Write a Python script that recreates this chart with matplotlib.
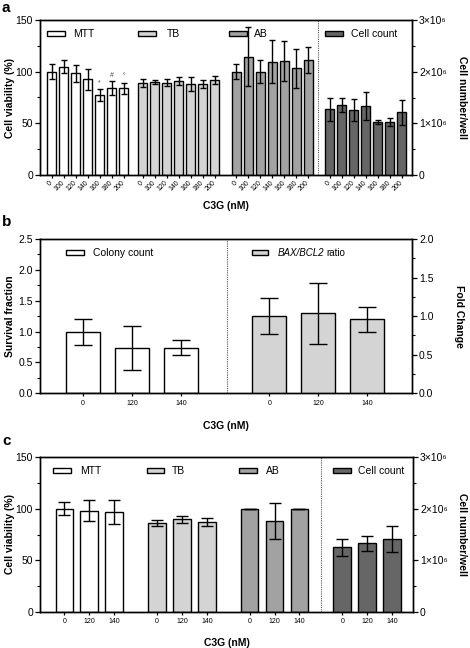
import matplotlib
matplotlib.use("Agg")
import matplotlib.pyplot as plt
import matplotlib.transforms as mtransforms
from matplotlib.patches import Rectangle
from matplotlib.ticker import MultipleLocator, FormatStrFormatter
import numpy as np

plt.rcParams['font.family'] = ['Liberation Sans', 'DejaVu Sans']

# ---------------- data ----------------
conc_a = ['0', '100', '120', '140', '160', '180', '200']
mtt_a = [100, 104.8, 98.4, 92.6, 77.4, 84, 84]
mtt_a_err = [7, 6.5, 8, 10, 6, 7, 5.5]
tb_a = [89.3, 89.6, 89.5, 91, 88, 88, 92]
tb_a_err = [4, 2, 3, 3.5, 6.5, 4, 4]
ab_a = [100, 114.5, 100, 109.7, 110.3, 103.2, 111.3]
ab_a_err = [7.5, 28.5, 11, 21, 19, 19, 13]
cell_a = [1.27e6, 1.355e6, 1.26e6, 1.335e6, 1.03e6, 1.02e6, 1.21e6]
cell_a_err = [0.23e6, 0.14e6, 0.21e6, 0.28e6, 0.04e6, 0.08e6, 0.25e6]
signif_a = {4: '*', 5: '#', 6: '°'}

conc_b = ['0', '120', '140']
colony_b = [1.0, 0.74, 0.74]
colony_b_err = [0.21, 0.355, 0.12]
bax_b = [1.0, 1.035, 0.96]
bax_b_err = [0.235, 0.395, 0.16]

conc_c = ['0', '120', '140']
mtt_c = [100, 98.2, 96.9]
mtt_c_err = [6.5, 10.5, 11.5]
tb_c = [86.5, 89.7, 87.5]
tb_c_err = [3, 3.3, 3.8]
ab_c = [100, 88.4, 100]
ab_c_err = [0, 17.5, 0]
cell_c = [1.25e6, 1.33e6, 1.41e6]
cell_c_err = [0.17e6, 0.15e6, 0.25e6]

C_MTT = 'white'
C_TB = '#d4d4d4'
C_AB = '#a2a2a2'
C_CELL = '#666666'

W, H = 470, 648
fig = plt.figure(figsize=(W / 100, H / 100), dpi=100)


def axes_px(left, right, top, bottom):
    return fig.add_axes([left / W, 1 - bottom / H, (right - left) / W, (bottom - top) / H])


def style_axis(ax):
    for s in ax.spines.values():
        s.set_linewidth(1.0)
    ax.tick_params(axis='y', which='major', length=3.5, width=0.9, labelsize=7.5, pad=1.5)
    ax.tick_params(axis='y', which='minor', length=2, width=0.8)
    ax.tick_params(axis='x', which='major', length=2.5, width=0.9, pad=2)


def bars(ax, x, y, err, color, width, capsize):
    ax.bar(x, y, width=width, color=color, edgecolor='black', linewidth=1.0, zorder=2)
    ax.errorbar(x, y, yerr=err, fmt='none', ecolor='black', elinewidth=1.0,
                capsize=capsize, capthick=1.0, zorder=3)


def legend_item(ax, x0, w, xt, color, label, y=0.912, h=0.034, fs=7.5, **kw):
    tr = mtransforms.blended_transform_factory(ax.transData, ax.transAxes)
    ax.add_patch(Rectangle((x0, y - h / 2), w, h, transform=tr, facecolor=color,
                           edgecolor='black', linewidth=1.0, clip_on=False, zorder=5))
    if isinstance(label, str):
        ax.text(xt, y, label, transform=tr, fontsize=fs, va='center', ha='left', **kw)


# ---------------- panel a ----------------
ax = axes_px(40, 412, 20, 175)
style_axis(ax)
off_a = [0, 7.6, 15.4, 23.2]
n = len(conc_a)
xa = [np.arange(n) + o for o in off_a]
bw = 0.75
bars(ax, xa[0], mtt_a, mtt_a_err, C_MTT, bw, 2.3)
bars(ax, xa[1], tb_a, tb_a_err, C_TB, bw, 2.3)
bars(ax, xa[2], ab_a, ab_a_err, C_AB, bw, 2.3)
for i, s in signif_a.items():
    ax.text(xa[0][i], mtt_a[i] + mtt_a_err[i] + 2, s, ha='center', va='bottom',
            fontsize=5, color='#444444')
ax.set_ylim(0, 150)
ax.set_xlim(-0.97, 30.05)
ax.yaxis.set_major_locator(MultipleLocator(50))
ax.yaxis.set_minor_locator(MultipleLocator(25))
ax.set_xticks(np.concatenate(xa))
ax.set_xticklabels(conc_a * 4, rotation=45, fontsize=5, ha='right', va='center',
                   rotation_mode='anchor')
ax.tick_params(axis='x', pad=2.5)
ax.axvline(22.2, color='#555555', linestyle=(0, (1, 1)), linewidth=0.8)
ax.set_ylabel('Cell viability (%)', fontsize=7.5, fontweight='bold')
ax.yaxis.set_label_coords(-0.068, 0.5)
ax.set_xlabel('C3G (nM)', fontsize=7.5, fontweight='bold')
ax.xaxis.set_label_coords(0.5, -0.168)
ax2 = ax.twinx()
style_axis(ax2)
bars(ax2, xa[3], cell_a, cell_a_err, C_CELL, bw, 2.3)
ax2.set_ylim(0, 3e6)
ax2.yaxis.set_minor_locator(MultipleLocator(0.5e6))
ax2.set_yticks([0, 1e6, 2e6, 3e6])
ax2.set_yticklabels(['0', '1×10⁶', '2×10⁶', '3×10⁶'])
ax2.set_ylabel('Cell number/well', fontsize=7.5, fontweight='bold', rotation=270)
ax2.yaxis.set_label_coords(1.148, 0.5)
legend_item(ax, -0.39, 1.5, 1.8, C_MTT, 'MTT')
legend_item(ax, 7.19, 1.55, 9.6, C_TB, 'TB')
legend_item(ax, 14.8, 1.5, 16.9, C_AB, 'AB')
legend_item(ax, 22.8, 1.5, 25.0, C_CELL, 'Cell count')

# ---------------- panel b ----------------
ax = axes_px(40, 412, 239, 393.3)
style_axis(ax)
xb1 = np.arange(3)
xb2 = np.arange(3) + 3.81
bars(ax, xb1, colony_b, colony_b_err, C_MTT, 0.7, 6.5)
ax.set_ylim(0, 2.5)
ax.set_xlim(-0.88, 6.73)
ax.yaxis.set_major_locator(MultipleLocator(0.5))
ax.yaxis.set_minor_locator(MultipleLocator(0.25))
ax.yaxis.set_major_formatter(FormatStrFormatter('%.1f'))
ax.set_xticks(np.concatenate([xb1, xb2]))
ax.set_xticklabels(conc_b * 2, fontsize=5)
ax.axvline(2.94, color='#555555', linestyle=(0, (1, 1)), linewidth=0.8)
ax.set_ylabel('Survival fraction', fontsize=7.5, fontweight='bold')
ax.yaxis.set_label_coords(-0.068, 0.5)
ax.set_xlabel('C3G (nM)', fontsize=7.5, fontweight='bold')
ax.xaxis.set_label_coords(0.5, -0.18)
ax2 = ax.twinx()
style_axis(ax2)
bars(ax2, xb2, bax_b, bax_b_err, C_TB, 0.7, 6.5)
ax2.set_ylim(0, 2.0)
ax2.yaxis.set_major_locator(MultipleLocator(0.5))
ax2.yaxis.set_minor_locator(MultipleLocator(0.25))
ax2.yaxis.set_major_formatter(FormatStrFormatter('%.1f'))
ax2.set_ylabel('Fold Change', fontsize=7.5, fontweight='bold', rotation=270)
ax2.yaxis.set_label_coords(1.14, 0.5)
legend_item(ax, -0.35, 0.37, 0.2, C_MTT, 'Colony count', y=0.912, h=0.032)
legend_item(ax, 3.46, 0.32, 0, C_TB, None, y=0.912, h=0.032)
tr = mtransforms.blended_transform_factory(ax.transData, ax.transAxes)
t1 = ax.text(3.99, 0.912, 'BAX/BCL2', transform=tr, fontsize=7, style='italic',
             va='center', ha='left')
fig.canvas.draw()
bb = t1.get_window_extent()
xe = ax.transData.inverted().transform((bb.x1, bb.y0))[0]
ax.text(xe + 0.03, 0.912, 'ratio', transform=tr, fontsize=7, va='center', ha='left')

# ---------------- panel c ----------------
ax = axes_px(40, 413, 457.3, 611.7)
style_axis(ax)
off_c = [0, 3.72, 7.44, 11.16]
xc = [np.arange(3) + o for o in off_c]
bw = 0.71
bars(ax, xc[0], mtt_c, mtt_c_err, C_MTT, bw, 4.5)
bars(ax, xc[1], tb_c, tb_c_err, C_TB, bw, 4.5)
bars(ax, xc[2], ab_c, ab_c_err, C_AB, bw, 4.5)
ax.set_ylim(0, 150)
ax.set_xlim(-0.98, 14.0)
ax.yaxis.set_major_locator(MultipleLocator(50))
ax.yaxis.set_minor_locator(MultipleLocator(25))
ax.set_xticks(np.concatenate(xc))
ax.set_xticklabels(conc_c * 4, fontsize=5)
ax.axvline(10.3, color='#555555', linestyle=(0, (1, 1)), linewidth=0.8)
ax.set_ylabel('Cell viability (%)', fontsize=7.5, fontweight='bold')
ax.yaxis.set_label_coords(-0.068, 0.5)
ax.set_xlabel('C3G (nM)', fontsize=7.5, fontweight='bold')
ax.xaxis.set_label_coords(0.5, -0.168)
ax2 = ax.twinx()
style_axis(ax2)
bars(ax2, xc[3], cell_c, cell_c_err, C_CELL, bw, 4.5)
ax2.set_ylim(0, 3e6)
ax2.yaxis.set_minor_locator(MultipleLocator(0.5e6))
ax2.set_yticks([0, 1e6, 2e6, 3e6])
ax2.set_yticklabels(['0', '1×10⁶', '2×10⁶', '3×10⁶'])
ax2.set_ylabel('Cell number/well', fontsize=7.5, fontweight='bold', rotation=270)
ax2.yaxis.set_label_coords(1.146, 0.5)
legend_item(ax, -0.46, 0.73, 0.63, C_MTT, 'MTT', y=0.914, h=0.032)
legend_item(ax, 3.33, 0.65, 4.3, C_TB, 'TB', y=0.914, h=0.032)
legend_item(ax, 7.0, 0.73, 8.1, C_AB, 'AB', y=0.914, h=0.032)
legend_item(ax, 10.8, 0.7, 11.8, C_CELL, 'Cell count', y=0.914, h=0.032)

# panel letters
for letter, yp in [('a', 8), ('b', 222), ('c', 441)]:
    fig.text(2 / W, 1 - yp / H, letter, fontsize=11, fontweight='bold', va='center', ha='left')

fig.savefig('out.png', dpi=100)
